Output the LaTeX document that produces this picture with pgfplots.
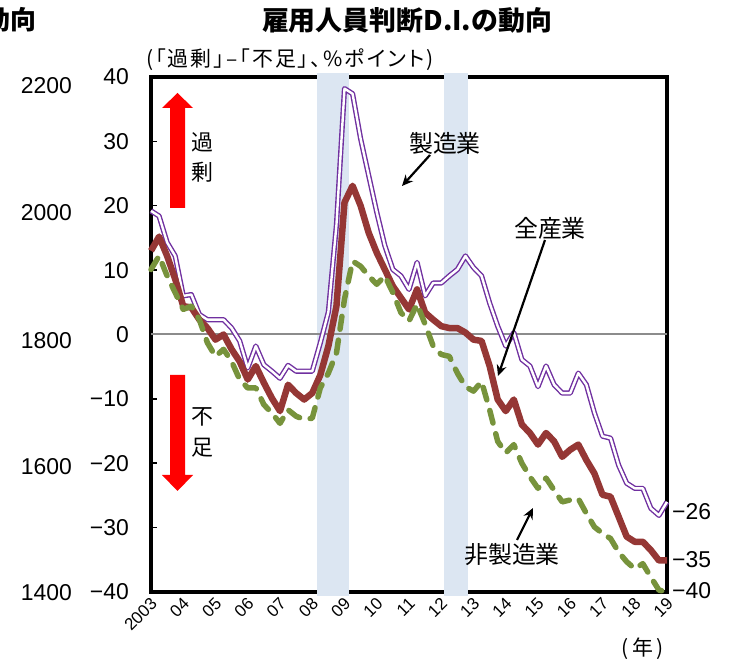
\documentclass[border=0pt]{standalone}
\usepackage{fontspec}
\setmainfont{Liberation Sans}
\newfontfamily\jp{Noto Sans CJK JP}
\newfontfamily\jpp{Noto Sans CJK JP}[RawFeature=+palt, LetterSpace=10]
\usepackage{pgfplots}
\pgfplotsset{compat=1.18}
\usepackage{pgfplotstable}
\usetikzlibrary{arrows.meta}

\definecolor{mfg}{HTML}{7030A0}
\definecolor{allind}{HTML}{953735}
\definecolor{nonmfg}{HTML}{77933C}
\definecolor{shade}{HTML}{DCE6F2}

% employment D.I., quarterly from 2003 (q = quarter index)
\pgfplotstableread{
q  M     A     N
0  19.2  13.0  10.1
1  18.4  15.2  12.2
2  14.3  12.2  9.1
3  12.2  8.6   6.5
4  6.0   4.4   3.9
5  6.2   4.2   4.4
6  3.1   2.3   2.3
7  2.3   1.0   -1.3
8  2.3   -0.8  -3.4
9  2.3   0.0   -2.3
10 1.0   -2.3  -4.2
11 -1.0  -4.2  -7.0
12 -5.2  -7.0  -8.3
13 -1.8  -4.9  -8.3
14 -4.7  -7.5  -10.9
15 -5.7  -9.9  -12.2
16 -6.8  -11.9 -13.8
17 -4.8  -7.8  -11.7
18 -5.7  -9.1  -12.7
19 -5.7  -10.1 -13.2
20 -5.7  -9.1  -13.0
21 -1.3  -6.3  -8.3
22 3.5   -1.8  -6.0
23 17.0  4.4   -2.9
24 38.2  20.5  5.5
25 37.4  23.1  11.4
26 30.4  20.0  10.6
27 24.7  15.8  9.1
28 19.0  12.7  7.8
29 13.8  10.1  9.1
30 10.1  7.5   6.5
31 9.1   5.7   3.4
32 7.0   3.9   2.1
33 11.2  7.0   4.7
34 6.0   3.4   1.6
35 8.0   2.3   -1.8
36 8.0   1.3   -3.1
37 9.1   1.0   -3.4
38 10.1  1.0   -6.0
39 12.2  0.3   -8.1
40 10.4  -0.8  -8.8
41 9.1   -1.0  -7.3
42 4.9   -4.9  -11.7
43 1.3   -10.1 -16.6
44 -1.8  -11.9 -18.4
45 0.3   -10.1 -17.1
46 -3.9  -14.0 -20.0
47 -4.9  -15.3 -22.1
48 -8.1  -17.1 -23.9
49 -4.9  -15.3 -22.3
50 -7.8  -16.6 -24.2
51 -9.1  -19.0 -26.0
52 -9.1  -17.9 -25.7
53 -6.0  -17.1 -25.5
54 -7.8  -19.5 -27.8
55 -12.2 -21.6 -29.9
56 -15.8 -24.9 -30.9
57 -16.1 -25.2 -31.7
58 -20.3 -28.3 -33.8
59 -23.1 -31.4 -35.3
60 -23.9 -32.2 -36.4
61 -23.9 -32.2 -35.6
62 -27.0 -33.5 -37.7
63 -28.1 -35.1 -39.7
64 -26.0 -35.1 -40.0
}\didata

\begin{document}
\begin{tikzpicture}
\path[use as bounding box] (0,0) rectangle (731bp,661bp);
\begin{axis}[
	at={(151bp,69bp)}, anchor=south west,
	width=516bp, height=515bp, scale only axis,
	xmin=2003, xmax=2019, ymin=-40, ymax=40,
	clip=false,
	axis line style={line width=3.5bp},
	ytick={-40,-30,...,40},
	yticklabels={−40,−30,−20,−10,0,10,20,30,40},
	ytick pos=left, tick align=inside,
	major tick length=6bp,
	ytick style={line width=1.5bp, black},
	yticklabel style={font=\fontsize{23}{23}\selectfont, inner sep=0pt, xshift=-22bp},
	xtick={2003,...,2019},
	xticklabels={2003,04,05,06,07,08,09,10,11,12,13,14,15,16,17,18,19},
	xtick style={draw=none},
	xticklabel style={font=\fontsize{17}{17}\selectfont, xshift=3bp, yshift=-9bp, rotate=45, anchor=east, inner sep=0pt},
]
	% recession shading
	\addplot[fill=shade, draw=none] coordinates {(2008.15,-40.6) (2009.15,-40.6) (2009.15,40.6) (2008.15,40.6)};
	\addplot[fill=shade, draw=none] coordinates {(2012.09,-40.6) (2012.83,-40.6) (2012.83,40.6) (2012.09,40.6)};
	% zero line
	\addplot[draw=black!45, line width=2bp] coordinates {(2003,0) (2019,0)};

	% manufacturing
	\addplot[mfg, line width=1.4bp, double=white, double distance=2.4bp, line join=round]
		table[x expr=2003+\thisrow{q}/4, y=M] {\didata};
	% all industries
	\addplot[allind, line width=6.5bp, line join=round]
		table[x expr=2003+\thisrow{q}/4, y=A] {\didata};
	% non-manufacturing
	\addplot[nonmfg, line width=5.5bp, dash pattern=on 13bp off 11bp, line cap=round, line join=round]
		table[x expr=2003+\thisrow{q}/4, y=N] {\didata};
\end{axis}

% stray labels from the neighbouring chart
\node[anchor=east, inner sep=0pt, font=\jp\bfseries\fontsize{26}{26}\selectfont] at (37bp,641bp) {動向};
\foreach \v/\yy in {2200/575,2000/448,1800/320,1600/194,1400/68}
	\node[anchor=east, inner sep=0pt, font=\fontsize{23}{23}\selectfont] at (72bp,\yy bp) {\v};

% titles
\node[font=\jp\bfseries\fontsize{27}{27}\selectfont] at (407bp,641bp) {雇用人員判断D.I.の動向};
\node[anchor=west, inner sep=0pt, font=\jpp\fontsize{21}{21}\selectfont] at (146bp,601bp) {(「過剰」–「不足」、\%ポイント)};
\node[font=\jp\fontsize{21}{21}\selectfont] at (643bp,12bp) {(\,年\,)};

% right end labels
\node[anchor=west, inner sep=0pt, font=\fontsize{23}{23}\selectfont] at (672bp,149bp) {−26};
\node[anchor=west, inner sep=0pt, font=\fontsize{23}{23}\selectfont] at (672bp,101bp) {−35};
\node[anchor=west, inner sep=0pt, font=\fontsize{23}{23}\selectfont] at (672bp,70bp) {−40};

% red arrows
\fill[red] (170bp,453bp) -- (185bp,453bp) -- (185bp,553bp) -- (193bp,553bp) -- (177.5bp,568bp) -- (162bp,553bp) -- (170bp,553bp) -- cycle;
\fill[red] (170bp,286bp) -- (185bp,286bp) -- (185bp,186bp) -- (193bp,186bp) -- (177.5bp,170bp) -- (162bp,186bp) -- (170bp,186bp) -- cycle;
\node[font=\jp\fontsize{22}{22}\selectfont] at (202bp,519bp) {過};
\node[font=\jp\fontsize{22}{22}\selectfont] at (202bp,489bp) {剰};
\node[font=\jp\fontsize{22}{22}\selectfont] at (202bp,244bp) {不};
\node[font=\jp\fontsize{22}{22}\selectfont] at (202bp,213bp) {足};

% series annotations
\node[font=\jp\fontsize{24}{24}\selectfont] at (445bp,518bp) {製造業};
\draw[line width=2.2bp, -{Stealth[length=11bp,width=10bp]}] (430bp,506bp) -- (402bp,475bp);
\node[font=\jp\fontsize{24}{24}\selectfont] at (550bp,433bp) {全産業};
\draw[line width=2.2bp, -{Stealth[length=11bp,width=10bp]}] (545bp,421bp) -- (498bp,285bp);
\node[font=\jp\fontsize{24}{24}\selectfont] at (512bp,106bp) {非製造業};
\draw[line width=2.2bp, -{Stealth[length=11bp,width=10bp]}] (517bp,121bp) -- (533bp,153bp);
\end{tikzpicture}
\end{document}
